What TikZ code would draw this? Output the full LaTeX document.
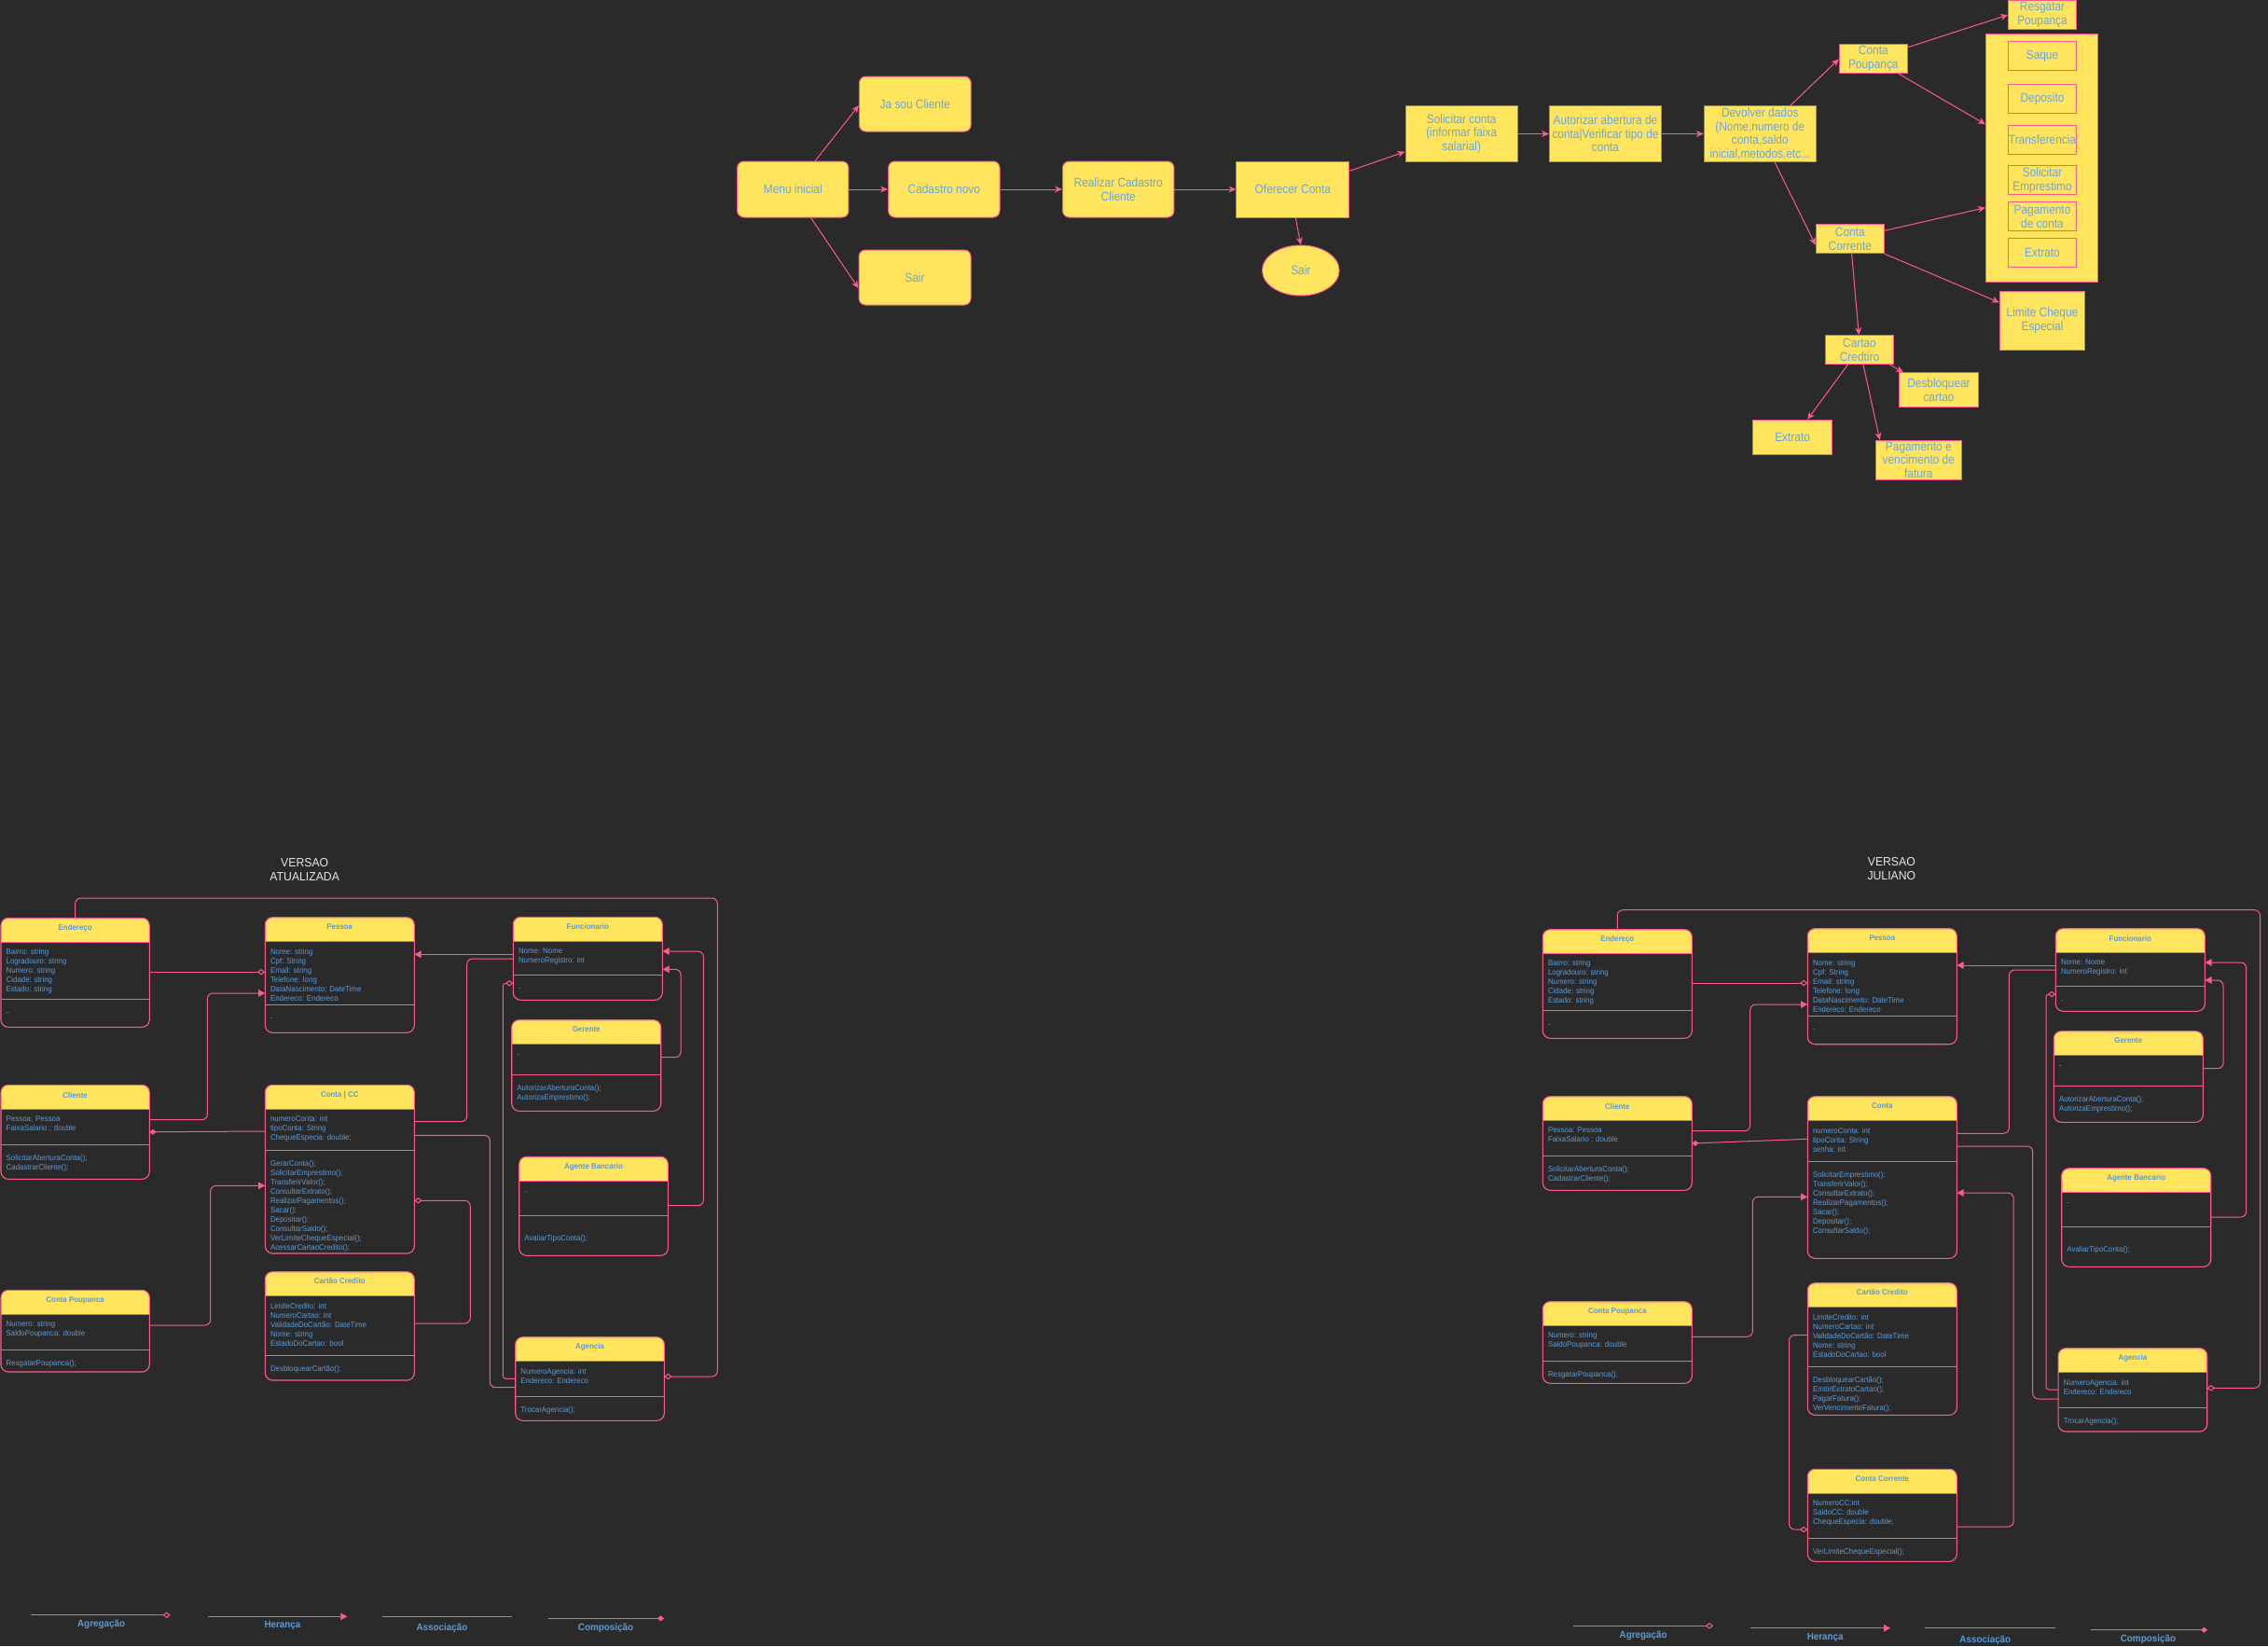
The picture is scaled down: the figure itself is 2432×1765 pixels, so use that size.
\documentclass[tikz,border=0pt]{standalone}
\usepackage{fontspec}
\setmainfont{Liberation Sans}
\newfontfamily\flowf[FakeStretch=0.88]{Liberation Sans}
\newfontfamily\umlf[FakeStretch=0.94]{Liberation Sans}
\usetikzlibrary{arrows.meta,shapes.geometric,fit}
\definecolor{bgc}{HTML}{2A2A2A}
\definecolor{pk}{HTML}{FF5A8C}
\definecolor{yl}{HTML}{FFE45E}
\definecolor{bl}{HTML}{6AA6DE}
\definecolor{ub}{HTML}{5A9BD8}
\definecolor{tw}{HTML}{E6E6E6}

\newcommand\umlcls[7]{%
  \node[fit={(#2,#3)(#4,#5)}, inner sep=0pt, fill=bgc, rounded corners=8pt] (#1) {};
  \begin{scope}
    \clip (#2-2,#3-2) rectangle (#4+2,#6);
    \fill[yl, rounded corners=8pt] (#2,#3) rectangle (#4,#5);
  \end{scope}
  \draw[pk, line width=1pt] (#2,#6) -- (#4,#6) (#2,#7) -- (#4,#7);
  \draw[pk, line width=1.1pt, rounded corners=8pt] (#2,#3) rectangle (#4,#5);
}
\newcommand\umltx[9]{%
  \node[uhd] (#1h) at ({(#2+#3)/2},#4) {#5};
  \node[uat, anchor=west] (#1a) at (#2+5.5,#6) {#7};
  \node[uat, anchor=west] (#1m) at (#2+5.5,#8) {#9};
}

\begin{document}
\begin{tikzpicture}[x=1pt,y=-1pt,
  fbox/.style={draw=pk, fill=yl, line width=1pt, text=bl, font=\flowf\fontsize{13.5}{15}\selectfont, align=center, inner sep=0pt},
  rbox/.style={fbox, rounded corners=7pt},
  sbox/.style={fbox},
  ebox/.style={fbox, ellipse},
  ibox/.style={sbox, minimum width=72.9pt, minimum height=31pt},
  farr/.style={draw=pk, line width=1pt, -{Stealth[length=8pt,width=7pt,inset=2.5pt]}},
  uhd/.style={font=\umlf\bfseries\fontsize{8.4}{10}\selectfont, text=ub, inner sep=0pt},
  uat/.style={font=\umlf\fontsize{8.4}{10}\selectfont, text=ub, inner sep=0pt, align=left},
  ttl/.style={font=\umlf\fontsize{13}{15}\selectfont, text=tw, align=center, inner sep=0pt},
  lgt/.style={font=\umlf\bfseries\fontsize{10.5}{12}\selectfont, text=ub, inner sep=0pt},
  conn/.style={draw=pk, line width=1pt, rounded corners=6pt},
  inh/.style={conn, -{Triangle[length=7pt,width=7.5pt]}},
  agg/.style={conn, -{Diamond[length=8pt,width=6.5pt,fill=bgc]}},
  comp/.style={conn, -{Diamond[length=7pt,width=6pt]}},
]
\fill[bgc] (0,0) rectangle (2432,1765);
\useasboundingbox (0,0) rectangle (2432,1765);

% ---------------- Flowchart ----------------
\node[rbox, minimum width=119.3pt, minimum height=60pt] (menu) at (850.3,203) {Menu inicial};
\node[rbox, minimum width=119.8pt, minimum height=59pt] (ja) at (981.3,111.5) {Ja sou Cliente};
\node[rbox, minimum width=119.4pt, minimum height=60pt] (cad) at (1012.3,203) {Cadastro novo};
\node[rbox, minimum width=120pt, minimum height=59pt] (sair1) at (981,297.5) {Sair};
\node[rbox, minimum width=119.4pt, minimum height=60pt] (real) at (1199.2,203) {Realizar Cadastro\\Cliente};
\node[sbox, minimum width=120.8pt, minimum height=60pt] (ofe) at (1386.3,203) {Oferecer Conta};
\node[ebox, minimum width=82.6pt, minimum height=54pt] (sair2) at (1394.8,290) {Sair};
\node[sbox, minimum width=120.4pt, minimum height=59.6pt, font=\flowf\fontsize{13.5}{14.5}\selectfont] (sol) at (1567.2,143.5) {Solicitar conta\\(informar faixa\\salarial)};
\node[sbox, minimum width=119.9pt, minimum height=59.6pt, font=\flowf\fontsize{13.5}{14.5}\selectfont] (aut) at (1721.5,143.5) {Autorizar abertura de\\conta|Verificar tipo de\\conta};
\node[sbox, minimum width=119.9pt, minimum height=59.6pt, font=\flowf\fontsize{13.5}{14.4}\selectfont] (dev) at (1887.3,143.5) {Devolver dados\\(Nome,numero de\\conta,saldo\\inicial,metodos,etc...};
\node[sbox, minimum width=73pt, minimum height=31pt] (cpou) at (2008.8,63.2) {Conta\\Poupança};
\node[sbox, minimum width=72.9pt, minimum height=31.2pt] (resg) at (2190,16) {Resgatar\\Poupança};
\node[sbox, minimum width=120.4pt, minimum height=265.6pt] (cont) at (2189.7,169.5) {};
\node[ibox] (saque) at (2190,60.2) {Saque};
\node[ibox] (depo) at (2190,106) {Deposito};
\node[ibox] (transf) at (2190,150) {Transferencia};
\node[ibox] (solemp) at (2190,193.3) {Solicitar\\Emprestimo};
\node[ibox] (pagc) at (2190,232.2) {Pagamento\\de conta};
\node[ibox] (extr1) at (2190,270.8) {Extrato};
\node[sbox, minimum width=73pt, minimum height=31pt] (ccor) at (1983.8,256.2) {Conta\\Corrente};
\node[sbox, minimum width=91.3pt, minimum height=62.6pt] (lim) at (2190,344) {Limite Cheque\\Especial};
\node[sbox, minimum width=72.9pt, minimum height=30.6pt] (cart) at (1994,375) {Cartao\\Credtiro};
\node[sbox, minimum width=84.7pt, minimum height=36.6pt] (desb) at (2079,418) {Desbloquear\\cartao};
\node[sbox, minimum width=85.2pt, minimum height=37pt] (extr2) at (1922.1,468.8) {Extrato};
\node[sbox, minimum width=92.4pt, minimum height=42pt, font=\flowf\fontsize{13.5}{14.3}\selectfont] (pagf) at (2057.3,493.3) {Pagamento e\\vencimento de\\fatura};

\draw[farr] (menu.north -| 874.1,0) -- (ja.west |- 0,113);
\draw[farr] (menu.south -| 869.5,0) -- (sair1.west |- 0,309);
\draw[farr] (menu.east) -- (cad.west);
\draw[farr] (cad.east) -- (real.west);
\draw[farr] (real.east) -- (ofe.west);
\draw[farr] (ofe.south -| 1389.3,0) -- (sair2.north);
\draw[farr] (ofe.east |- 0,183.3) -- (sol.west |- 0,162.7);
\draw[farr] (sol.east) -- (aut.west);
\draw[farr] (aut.east) -- (dev.west);
\draw[farr] (dev.north -| 1919.8,0) -- (cpou.west |- 0,63.3);
\draw[farr] (cpou.east |- 0,50.7) -- (resg.west |- 0,16);
\draw[farr] (cpou.south -| 2036.1,0) -- (cont.west |- 0,133.3);
\draw[farr] (dev.south -| 1903,0) -- (ccor.west |- 0,262.7);
\draw[farr] (ccor.east |- 0,247.3) -- (cont.west |- 0,222.7);
\draw[farr] (ccor.south east) -- (lim.west |- 0,324.3);
\draw[farr] (ccor.south -| 1985.6,0) -- (cart.north -| 1993.3,0);
\draw[farr] (cart.south -| 2026,0) -- (desb.north -| 2041,0);
\draw[farr] (cart.south -| 1981.5,0) -- (extr2.north -| 1938.2,0);
\draw[farr] (cart.south -| 1997.9,0) -- (pagf.north -| 2015.7,0);

% ---------------- Titles ----------------
\node[ttl] (ttlA) at (326.7,932.5) {VERSAO\\ATUALIZADA};
\node[ttl] (ttlB) at (2028.3,932) {VERSAO\\JULIANO};

% ---------------- Left UML ----------------
\umlcls{endA}{1}{984.3}{160.3}{1101.3}{1010}{1071.3}
\umltx{endA}{1}{160.3}{995}{Endereço}{1041}{Bairro: string\\Logradouro: string\\Numero: string\\Cidade: string\\Estado: string}{1087.7}{-}
\umlcls{pesA}{284.3}{983.7}{444.3}{1107.3}{1009.3}{1077.7}
\umltx{pesA}{284.3}{444.3}{994}{Pessoa}{1045.3}{Nome: string\\Cpf: String\\Email: string\\Telefone: long\\DataNascimento: DateTime\\Endereco: Endereco}{1093.7}{-}
\umlcls{funA}{550.3}{983.3}{710.3}{1072.3}{1009.3}{1045.3}
\umltx{funA}{550.3}{710.3}{993.7}{Funcionario}{1025}{Nome: Nome\\NumeroRegistro: int}{1061}{-}
\umlcls{gerA}{548.7}{1093.7}{708.7}{1191.3}{1119.3}{1152.3}
\umltx{gerA}{548.7}{708.7}{1104}{Gerente}{1132}{-}{1172.3}{AutorizarAberturaConta();\\AutorizaEmprestimo();}
\umlcls{cliA}{1}{1163.3}{160.3}{1264.3}{1189.3}{1227.3}
\umltx{cliA}{1}{160.3}{1174}{Cliente}{1205}{Pessoa: Pessoa\\FaixaSalario : double}{1247}{SolicitarAberturaConta();\\CadastrarCliente();}
\umlcls{conA}{284.3}{1163.3}{444.3}{1344}{1189.3}{1233.3}
\umltx{conA}{284.3}{444.3}{1174}{Conta | CC}{1210}{numeroConta: int\\tipoConta: String\\ChequeEspecia: double;}{1293}{GerarConta();\\SolicitarEmprestimo();\\TransferirValor();\\ConsultarExtrato();\\RealizarPagamentos();\\Sacar();\\Depositar();\\ConsultarSaldo();\\VerLimiteChequeEspecial();\\AcessarCartaoCredito();}
\umlcls{agbA}{556.7}{1240.3}{716.3}{1346.3}{1266.3}{1303.3}
\umltx{agbA}{556.7}{716.3}{1251}{Agente Bancario}{1279}{-}{1328.3}{AvaliarTipoConta();}
\umlcls{pouA}{1}{1383.3}{160.3}{1471}{1409.3}{1447.3}
\umltx{pouA}{1}{160.3}{1394}{Conta Poupanca}{1425}{Numero: string\\SaldoPoupanca: double}{1462}{ResgatarPoupanca();}
\umlcls{carA}{284.3}{1363.7}{444.3}{1480}{1389.3}{1453.3}
\umltx{carA}{284.3}{444.3}{1373.7}{Cartão Credito}{1420}{LimiteCredito: int\\NumeroCartao: int\\ValidadeDoCartão: DateTime\\Nome: string\\EstadoDoCartao: bool}{1468}{DesbloquearCartão();}
\umlcls{ageA}{552.7}{1433.7}{712.3}{1523.3}{1459.3}{1497.3}
\umltx{ageA}{552.7}{712.3}{1444}{Agencia}{1475}{NumeroAgencia: int\\Endereco: Endereco}{1512.3}{TrocarAgencia();}

\draw[agg] (endA.east |- 0,1042.3) -- (pesA.west |- 0,1042.3);
\draw[inh] (funA.west |- 0,1023.3) -- (pesA.east |- 0,1023.3);
\draw[inh] (cliA.east |- 0,1200.7) -- (222.3,1200.7) -- (222.3,1065) -- (pesA.west |- 0,1065);
\draw[comp] (conA.west |- 0,1213) -- (cliA.east |- 0,1213.7);
\draw[inh] (pouA.east |- 0,1421) -- (225.7,1421) -- (225.7,1271.3) -- (conA.west |- 0,1271.3);
\draw[conn] (conA.east |- 0,1202.7) -- (500.7,1202.7) -- (500.7,1028) -- (funA.west |- 0,1028);
\draw[agg] (carA.east |- 0,1419) -- (504.3,1419) -- (504.3,1287.3) -- (conA.east |- 0,1287.3);
\draw[conn] (conA.east |- 0,1217.3) -- (525.3,1217.3) -- (525.3,1487.7) -- (ageA.west |- 0,1487.7);
\draw[agg, rounded corners=3pt] (ageA.west |- 0,1478.3) -- (539.3,1478.3) -- (539.3,1054.3) -- (funA.west |- 0,1054.3);
\draw[inh] (gerA.east |- 0,1133.7) -- (730,1133.7) -- (730,1039.3) -- (funA.east |- 0,1039.3);
\draw[inh] (agbA.east |- 0,1292.7) -- (754.3,1292.7) -- (754.3,1020) -- (funA.east |- 0,1020);
\draw[agg] (endA.north) -- (endA.north |- 0,963) -- (769.3,963) -- (769.3,1476) -- (ageA.east |- 0,1476);

% ---------------- Right UML ----------------
\umlcls{endB}{1654.3}{996.7}{1814.3}{1113.3}{1022.3}{1083.3}
\umltx{endB}{1654.3}{1814.3}{1007}{Endereço}{1053}{Bairro: string\\Logradouro: string\\Numero: string\\Cidade: string\\Estado: string}{1099.7}{-}
\umlcls{pesB}{1938.3}{995.7}{2098.3}{1119.7}{1021.3}{1089.3}
\umltx{pesB}{1938.3}{2098.3}{1006}{Pessoa}{1057}{Nome: string\\Cpf: String\\Email: string\\Telefone: long\\DataNascimento: DateTime\\Endereco: Endereco}{1105.3}{-}
\umlcls{funB}{2204.3}{995.7}{2364.3}{1084.3}{1021.7}{1057.3}
\umltx{funB}{2204.3}{2364.3}{1006}{Funcionario}{1037}{Nome: Nome\\NumeroRegistro: int}{1074}{-}
\umlcls{gerB}{2202.3}{1105.7}{2362.3}{1203.3}{1131.3}{1164.3}
\umltx{gerB}{2202.3}{2362.3}{1116}{Gerente}{1144}{-}{1184.3}{AutorizarAberturaConta();\\AutorizaEmprestimo();}
\umlcls{agbB}{2210.7}{1252.7}{2370.7}{1358.3}{1278.3}{1315.3}
\umltx{agbB}{2210.7}{2370.7}{1263}{Agente Bancario}{1291}{-}{1340}{AvaliarTipoConta();}
\umlcls{cliB}{1654.3}{1175.7}{1814.3}{1276.3}{1201.3}{1239.3}
\umltx{cliB}{1654.3}{1814.3}{1186}{Cliente}{1217}{Pessoa: Pessoa\\FaixaSalario : double}{1259}{SolicitarAberturaConta();\\CadastrarCliente();}
\umlcls{conB}{1938.3}{1175.7}{2098.3}{1349.3}{1201.3}{1245.3}
\umltx{conB}{1938.3}{2098.3}{1186}{Conta}{1222}{numeroConta: int\\tipoConta: String\\senha: int}{1290}{SolicitarEmprestimo();\\TransferirValor();\\ConsultarExtrato();\\RealizarPagamentos();\\Sacar();\\Depositar();\\ConsultarSaldo();}
\umlcls{pouB}{1654.3}{1395.7}{1814.3}{1483.3}{1421.3}{1459.3}
\umltx{pouB}{1654.3}{1814.3}{1406}{Conta Poupanca}{1437}{Numero: string\\SaldoPoupanca: double}{1474}{ResgatarPoupanca();}
\umlcls{carB}{1938.3}{1375.7}{2098.3}{1517.3}{1401.3}{1465.3}
\umltx{carB}{1938.3}{2098.3}{1385.7}{Cartão Credito}{1432}{LimiteCredito: int\\NumeroCartao: int\\ValidadeDoCartão: DateTime\\Nome: string\\EstadoDoCartao: bool}{1495}{DesbloquearCartão();\\EmitirExtratoCartao();\\PagarFatura();\\VerVencimentoFatura();}
\umlcls{ccB}{1938.3}{1575.3}{2098.3}{1674.3}{1601.3}{1649.3}
\umltx{ccB}{1938.3}{2098.3}{1586}{Conta Corrente}{1622}{NumeroCC:int\\SaldoCC: double\\ChequeEspecia: double;}{1664}{VerLimiteChequeEspecial();}
\umlcls{ageB}{2207.1}{1445.7}{2366.7}{1535}{1471.3}{1509.3}
\umltx{ageB}{2207.1}{2366.7}{1456}{Agencia}{1487.3}{NumeroAgencia: int\\Endereco: Endereco}{1524.3}{TrocarAgencia();}

\draw[agg] (endB.east |- 0,1054) -- (pesB.west |- 0,1054);
\draw[inh] (funB.west |- 0,1035) -- (pesB.east |- 0,1035);
\draw[inh] (cliB.east |- 0,1212.7) -- (1876.7,1212.7) -- (1876.7,1077) -- (pesB.west |- 0,1077);
\draw[comp] (conB.west |- 0,1221.3) -- (cliB.east |- 0,1226);
\draw[inh] (pouB.east |- 0,1433.3) -- (1879.3,1433.3) -- (1879.3,1283.3) -- (conB.west |- 0,1283.3);
\draw[conn] (conB.east |- 0,1215.3) -- (2154.3,1215.3) -- (2154.3,1040) -- (funB.west |- 0,1040);
\draw[agg] (carB.west |- 0,1431.5) -- (1918.5,1431.5) -- (1918.5,1640) -- (ccB.west |- 0,1640);
\draw[inh] (ccB.east |- 0,1637) -- (2159.2,1637) -- (2159.2,1279) -- (conB.east |- 0,1279);
\draw[conn] (conB.east |- 0,1229) -- (2179.7,1229) -- (2179.7,1500) -- (ageB.west |- 0,1500);
\draw[agg, rounded corners=3pt] (ageB.west |- 0,1490) -- (2194,1490) -- (2194,1066) -- (funB.west |- 0,1066);
\draw[inh] (gerB.east |- 0,1145.7) -- (2384,1145.7) -- (2384,1051) -- (funB.east |- 0,1051);
\draw[inh] (agbB.east |- 0,1305) -- (2408.7,1305) -- (2408.7,1032) -- (funB.east |- 0,1032);
\draw[agg] (endB.north) -- (endB.north |- 0,975.7) -- (2423.5,975.7) -- (2423.5,1488.3) -- (ageB.east |- 0,1488.3);

% ---------------- Legends ----------------
\coordinate (lgA1) at (33,1731.7); \coordinate (lgA2) at (182.7,1731.7);
\coordinate (lgH1) at (223,1733.3); \coordinate (lgH2) at (372.3,1733.3);
\coordinate (lgS1) at (409.6,1733.3); \coordinate (lgS2) at (549.2,1733.3);
\coordinate (lgC1) at (587.5,1735.3); \coordinate (lgC2) at (712,1735.3);
\draw[agg] (lgA1) -- (lgA2);
\draw[inh] (lgH1) -- (lgH2);
\draw[conn] (lgS1) -- (lgS2);
\draw[comp] (lgC1) -- (lgC2);
\node[lgt] (lgAt) at (108.6,1741.7) {Agregação};
\node[lgt] (lgHt) at (303,1743.3) {Herança};
\node[lgt] (lgSt) at (474,1746) {Associação};
\node[lgt] (lgCt) at (649.5,1745.3) {Composição};

\coordinate (lgA1b) at (1687.4,1743.3); \coordinate (lgA2b) at (1837,1743.3);
\coordinate (lgH1b) at (1877.4,1745.7); \coordinate (lgH2b) at (2027,1745.7);
\coordinate (lgS1b) at (2063.5,1745.7); \coordinate (lgS2b) at (2203.6,1745.7);
\coordinate (lgC1b) at (2241.5,1747.7); \coordinate (lgC2b) at (2367,1747.7);
\draw[agg] (lgA1b) -- (lgA2b);
\draw[inh] (lgH1b) -- (lgH2b);
\draw[conn] (lgS1b) -- (lgS2b);
\draw[comp] (lgC1b) -- (lgC2b);
\node[lgt] (lgAtb) at (1762.2,1753.3) {Agregação};
\node[lgt] (lgHtb) at (1957.2,1755.7) {Herança};
\node[lgt] (lgStb) at (2128.8,1758.3) {Associação};
\node[lgt] (lgCtb) at (2303.4,1757.3) {Composição};
\end{tikzpicture}
\end{document}
